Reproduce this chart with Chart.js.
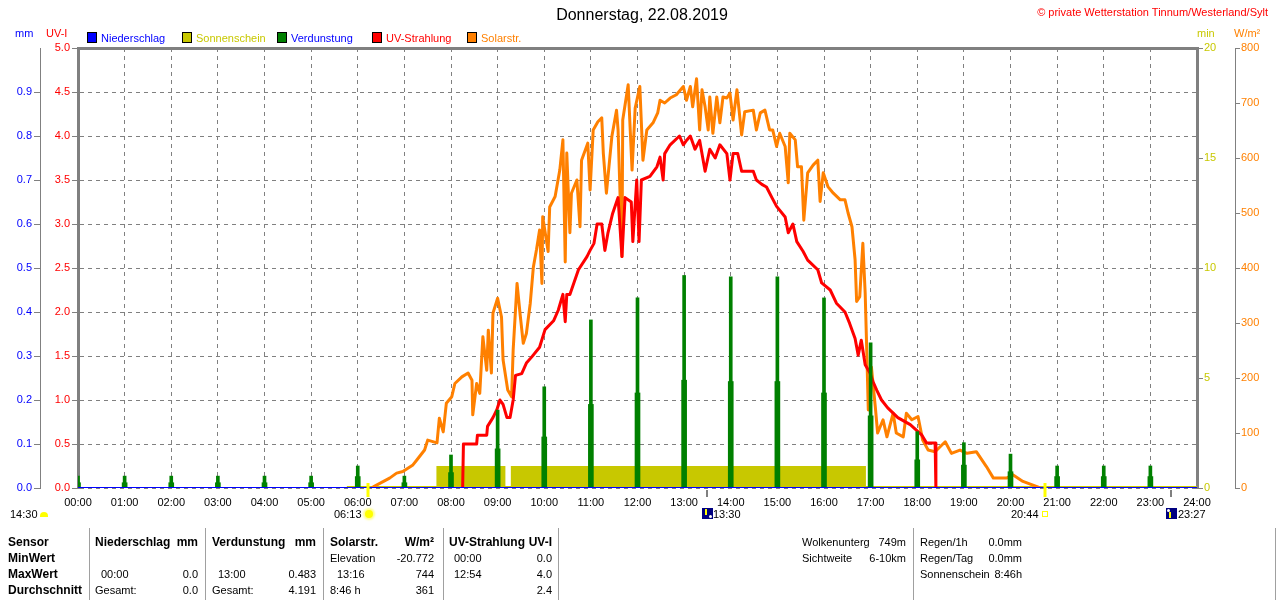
<!DOCTYPE html>
<html lang="de">
<head>
<meta charset="utf-8">
<title>Donnerstag, 22.08.2019</title>
<script src="https://cdn.jsdelivr.net/npm/chart.js@4.4.1/dist/chart.umd.min.js"></script>
<style>
  body { margin: 0; background: #fff; font-family: "Liberation Sans", Arial, sans-serif; font-size: 11px; color: #000; }
  #wrap { position: relative; width: 1280px; height: 600px; overflow: hidden; }
  #c { position: absolute; left: 0; top: 0; }
  .t { position: absolute; white-space: nowrap; line-height: 14px; }
  .b { font-weight: bold; font-size: 12px; }
  .box { position: absolute; top: 32px; width: 8px; height: 9px; border: 1px solid #000; }
  .sep { position: absolute; top: 528px; width: 1px; height: 72px; background: #a0a0a0; }
  .moon { position: absolute; top: 508px; width: 11px; height: 11px; background: #000080; }
  .moon i { position: absolute; left: 3px; top: 1px; width: 2px; height: 6px; background: #ffff00; }
  .moon b { position: absolute; right: 1px; bottom: 1px; width: 3px; height: 3px; background: #fff; border-radius: 50%; }
</style>
</head>
<body>
<div id="wrap">
  <canvas id="c" width="1280" height="600"></canvas>

  <div class="t" style="left:0;width:1284px;text-align:center;top:5px;font-size:16px;line-height:20px">Donnerstag, 22.08.2019</div>
  <div class="t" style="right:12px;top:5px;color:#ff0000">© private Wetterstation Tinnum/Westerland/Sylt</div>

  <div class="t" style="left:15px;top:26px;color:#0000ff">mm</div>
  <div class="t" style="left:46px;top:26px;color:#ff0000">UV-I</div>
  <div class="t" style="left:1197px;top:26px;color:#c8c800">min</div>
  <div class="t" style="left:1234px;top:26px;color:#ff8000">W/m²</div>

  <div class="box" style="left:87px;background:#0000ff"></div>
  <div class="t" style="left:101px;top:31px;color:#0000ff">Niederschlag</div>
  <div class="box" style="left:182px;background:#c8c800"></div>
  <div class="t" style="left:196px;top:31px;color:#c8c800">Sonnenschein</div>
  <div class="box" style="left:277px;background:#008000"></div>
  <div class="t" style="left:291px;top:31px;color:#0000ff">Verdunstung</div>
  <div class="box" style="left:372px;background:#ff0000"></div>
  <div class="t" style="left:386px;top:31px;color:#ff0000">UV-Strahlung</div>
  <div class="box" style="left:467px;background:#ff8000"></div>
  <div class="t" style="left:481px;top:31px;color:#ff8000">Solarstr.</div>

  <!-- Sonne / Mond unter der Zeitachse -->
  <div class="t" style="left:10px;top:507px">14:30</div>
  <div style="position:absolute;left:40px;top:512px;width:8px;height:5px;background:#ffff00;border-radius:4px 4px 0 0"></div>
  <div class="t" style="left:334px;top:507px">06:13</div>
  <div style="position:absolute;left:365px;top:510px;width:8px;height:8px;border-radius:50%;background:#ffff00;box-shadow:0 0 2px 2px #ffff90"></div>
  <div class="moon" style="left:702px"><i></i><b></b></div>
  <div class="t" style="left:713px;top:507px">13:30</div>
  <div class="t" style="left:1011px;top:507px">20:44</div>
  <div style="position:absolute;left:1042px;top:511px;width:4px;height:4px;border:1px solid #ffff00"></div>
  <div class="moon" style="left:1166px"><i style="top:4px"></i><b style="left:1px;top:1px"></b></div>
  <div class="t" style="left:1178px;top:507px">23:27</div>

  <!-- Tabelle -->
  <div class="t b" style="left:8px;top:535px">Sensor</div>
  <div class="t b" style="left:8px;top:551px">MinWert</div>
  <div class="t b" style="left:8px;top:567px">MaxWert</div>
  <div class="t b" style="left:8px;top:583px">Durchschnitt</div>

  <div class="sep" style="left:89px"></div>
  <div class="t b" style="left:95px;top:535px">Niederschlag</div>
  <div class="t b" style="right:1082px;top:535px">mm</div>
  <div class="t" style="left:101px;top:567px">00:00</div>
  <div class="t" style="right:1082px;top:567px">0.0</div>
  <div class="t" style="left:95px;top:583px">Gesamt:</div>
  <div class="t" style="right:1082px;top:583px">0.0</div>

  <div class="sep" style="left:205px"></div>
  <div class="t b" style="left:212px;top:535px">Verdunstung</div>
  <div class="t b" style="right:964px;top:535px">mm</div>
  <div class="t" style="left:218px;top:567px">13:00</div>
  <div class="t" style="right:964px;top:567px">0.483</div>
  <div class="t" style="left:212px;top:583px">Gesamt:</div>
  <div class="t" style="right:964px;top:583px">4.191</div>

  <div class="sep" style="left:323px"></div>
  <div class="t b" style="left:330px;top:535px">Solarstr.</div>
  <div class="t b" style="right:846px;top:535px">W/m²</div>
  <div class="t" style="left:330px;top:551px">Elevation</div>
  <div class="t" style="right:846px;top:551px">-20.772</div>
  <div class="t" style="left:337px;top:567px">13:16</div>
  <div class="t" style="right:846px;top:567px">744</div>
  <div class="t" style="left:330px;top:583px">8:46 h</div>
  <div class="t" style="right:846px;top:583px">361</div>

  <div class="sep" style="left:443px"></div>
  <div class="t b" style="left:449px;top:535px">UV-Strahlung</div>
  <div class="t b" style="right:728px;top:535px">UV-I</div>
  <div class="t" style="left:454px;top:551px">00:00</div>
  <div class="t" style="right:728px;top:551px">0.0</div>
  <div class="t" style="left:454px;top:567px">12:54</div>
  <div class="t" style="right:728px;top:567px">4.0</div>
  <div class="t" style="right:728px;top:583px">2.4</div>
  <div class="sep" style="left:558px"></div>

  <div class="t" style="left:802px;top:535px">Wolkenunterg</div>
  <div class="t" style="right:374px;top:535px">749m</div>
  <div class="t" style="left:802px;top:551px">Sichtweite</div>
  <div class="t" style="right:374px;top:551px">6-10km</div>
  <div class="sep" style="left:913px"></div>
  <div class="t" style="left:920px;top:535px">Regen/1h</div>
  <div class="t" style="right:258px;top:535px">0.0mm</div>
  <div class="t" style="left:920px;top:551px">Regen/Tag</div>
  <div class="t" style="right:258px;top:551px">0.0mm</div>
  <div class="t" style="left:920px;top:567px">Sonnenschein</div>
  <div class="t" style="right:258px;top:567px">8:46h</div>
  <div class="sep" style="left:1275px"></div>
</div>

<script>
// --- Daten ---
const hourTicks = ['00:00','01:00','02:00','03:00','04:00','05:00','06:00','07:00','08:00','09:00','10:00','11:00','12:00',
                   '13:00','14:00','15:00','16:00','17:00','18:00','19:00','20:00','21:00','22:00','23:00','24:00'];

// Niederschlag (mm)
const rainTimes = ['00:00', '24:00'];
const rainValues = [0, 0];

// Sonnenschein (min)
const sunTimes = ['07:41', '07:41', '09:10', '09:10', '09:17', '09:17', '16:54', '16:54'];
const sunValues = [0, 1, 1, 0, 0, 1, 1, 0];
const daylightTimes = ['05:46', '24:00'];
const daylightValues = [0, 0];

// Verdunstung (mm), je Stunde
const evapTimes = ['00:00','01:00','02:00','03:00','04:00','05:00','06:00','07:00','08:00','09:00','10:00','11:00',
                   '12:00','13:00','14:00','15:00','16:00','17:00','18:00','19:00','20:00','21:00','22:00','23:00'];
const evapValues = [0.027, 0.027, 0.027, 0.027, 0.027, 0.027, 0.050, 0.027, 0.075, 0.177, 0.230, 0.382,
                    0.432, 0.483, 0.480, 0.480, 0.432, 0.330, 0.128, 0.103, 0.077, 0.050, 0.050, 0.050];
const evapHalfValues = [0.012, 0.012, 0.012, 0.012, 0.012, 0.012, 0.026, 0.012, 0.035, 0.089, 0.116, 0.190,
                        0.216, 0.245, 0.242, 0.242, 0.216, 0.164, 0.064, 0.052, 0.037, 0.026, 0.026, 0.026];

// UV-Strahlung (UV-I)
const uvTimes = ['08:15','08:16','08:33','08:34','08:46','08:47','08:54','08:59','09:03','09:07','09:12','09:16',
  '09:20','09:23','09:31','09:37','09:44','09:54','10:01','10:12','10:18','10:24','10:27','10:29','10:33','10:37',
  '10:44','10:55','10:59','11:04','11:08','11:14','11:18','11:22','11:28','11:35','11:40','11:44','11:52','11:54',
  '11:59','12:02','12:05','12:16','12:25','12:29','12:33','12:35','12:42','12:54','12:59','13:03','13:08','13:14',
  '13:20','13:27','13:33','13:40','13:46','13:55','13:59','14:03','14:09','14:14','14:29','14:33','14:40','14:46',
  '14:53','14:59','15:10','15:14','15:20','15:25','15:33','15:39','15:52','15:57','16:08','16:16','16:27','16:33',
  '16:40','16:44','16:48','16:53','16:59','17:03','17:08','17:14','17:22','17:35','17:51','18:06','18:12','18:23','18:24'];
const uvValues = [0, 0.5, 0.5, 0.6, 0.6, 0.7, 0.8, 0.89, 1.0, 0.95, 0.8, 0.8,
  1.0, 1.28, 1.3, 1.42, 1.49, 1.6, 1.8, 1.9, 2.02, 2.2, 1.89, 2.2, 2.2, 2.3,
  2.48, 2.63, 2.7, 2.78, 3.0, 3.0, 2.7, 2.9, 3.12, 3.3, 2.63, 3.3, 3.25, 2.8,
  3.5, 2.8, 3.5, 3.54, 3.65, 3.76, 3.5, 3.8, 3.9, 4.0, 3.9, 3.95, 4.0, 3.85,
  3.95, 3.6, 3.85, 3.75, 3.9, 3.8, 3.5, 3.8, 3.8, 3.6, 3.6, 3.5, 3.45, 3.42,
  3.3, 3.2, 3.08, 2.9, 3.0, 2.8, 2.69, 2.59, 2.48, 2.33, 2.25, 2.1, 2.0, 1.87,
  1.7, 1.51, 1.68, 1.4, 1.31, 1.21, 1.11, 1.0, 0.91, 0.8, 0.72, 0.6, 0.51, 0.51, 0];

// Solarstrahlung (W/m²)
const solarTimes = ['06:18','06:20','06:41','06:50','06:58','07:11','07:16','07:26','07:30','07:42','07:45','07:50',
  '07:54','08:01','08:05','08:14','08:22','08:27','08:28','08:33','08:37','08:41','08:46','08:48','08:52','08:54',
  '09:00','09:05','09:07','09:13','09:18','09:20','09:25','09:29','09:33','09:37','09:42','09:46','09:50','09:54',
  '09:57','09:58','10:05','10:07','10:14','10:20','10:24','10:27','10:29','10:33','10:35','10:42','10:46','10:48',
  '10:56','10:59','11:03','11:09','11:14','11:16','11:20','11:27','11:33','11:35','11:40','11:41','11:48','11:53',
  '11:57','12:03','12:07','12:12','12:20','12:26','12:29','12:35','12:42','12:50','12:59','13:03','13:08','13:11',
  '13:16','13:20','13:23','13:27','13:31','13:33','13:37','13:42','13:46','13:50','13:55','13:59','14:03','14:08',
  '14:14','14:18','14:29','14:33','14:38','14:44','14:50','14:54','14:59','15:03','15:10','15:14','15:16','15:23',
  '15:26','15:31','15:34','15:39','15:46','15:52','15:55','15:59','16:05','16:12','16:21','16:27','16:31','16:36',
  '16:40','16:42','16:46','16:50','16:53','16:55','16:57','17:01','17:06','17:09','17:16','17:21','17:29','17:33',
  '17:42','17:46','17:53','18:01','18:07','18:14','18:23','18:36','18:44','18:55','19:04','19:16','19:29','19:38',
  '19:55','20:03','20:16','20:35','20:38'];
const solarValues = [0, 2, 18, 27, 30, 42, 51, 69, 87, 82, 127, 102,
  154, 166, 190, 202, 209, 196, 133, 190, 172, 275, 214, 287, 209, 318,
  345, 311, 233, 178, 166, 251, 372, 315, 263, 281, 336, 402, 433, 469,
  372, 493, 430, 511, 530, 578, 633, 411, 609, 464, 536, 560, 475, 596,
  627, 542, 651, 666, 673, 609, 536, 639, 687, 651, 421, 669, 733, 578,
  691, 730, 596, 651, 664, 682, 705, 700, 709, 715, 730, 705, 730, 693,
  744, 651, 724, 693, 651, 711, 645, 711, 664, 711, 709, 718, 669, 724,
  642, 684, 687, 651, 682, 687, 651, 651, 621, 645, 621, 555, 645, 633,
  584, 584, 487, 573, 587, 596, 521, 573, 548, 536, 524, 524, 500, 475,
  415, 339, 348, 445, 354, 251, 142, 220, 148, 100, 124, 93, 136, 100,
  93, 136, 124, 130, 87, 69, 66, 84, 63, 69, 63, 66, 39, 18,
  18, 24, 12, 2, 0];

// Sonnenauf-/-untergang und Mondauf-/-untergang
const sunMarkTimes = ['06:13', '20:44'];
const moonMarkTimes = ['13:30', '23:27'];

// --- Hilfsfunktionen ---
function toMin(t) {
    const [h, m] = t.split(':').map(Number);
    return h * 60 + m;
}
function pts(times, values) {
    return times.map((t, i) => ({ x: toMin(t), y: values[i] }));
}

const GRID = '#808080';
const FONT = { family: '"Liberation Sans", Arial, sans-serif', size: 11 };
Chart.defaults.font.family = FONT.family;
Chart.defaults.font.size = 11;

// kleine Striche unter der Zeitachse
const markerPlugin = {
    id: 'markers',
    afterDatasetsDraw(chart) {
        const { ctx, chartArea, scales } = chart;
        ctx.save();
        ctx.lineWidth = 3;
        ctx.strokeStyle = '#ffff00';
        sunMarkTimes.forEach(t => {
            const x = Math.round(scales.x.getPixelForValue(toMin(t)));
            ctx.beginPath();
            ctx.moveTo(x, chartArea.bottom - 5);
            ctx.lineTo(x, chartArea.bottom + 9);
            ctx.stroke();
        });
        ctx.lineWidth = 2;
        ctx.strokeStyle = GRID;
        moonMarkTimes.forEach(t => {
            const x = Math.round(scales.x.getPixelForValue(toMin(t)));
            ctx.beginPath();
            ctx.moveTo(x, chartArea.bottom + 2);
            ctx.lineTo(x, chartArea.bottom + 9);
            ctx.stroke();
        });
        ctx.restore();
    }
};

new Chart(document.getElementById('c'), {
    type: 'line',
    data: {
        datasets: [
            {
                label: 'Niederschlag', data: pts(rainTimes, rainValues), yAxisID: 'yMM',
                borderColor: '#0000ff', borderWidth: 2, order: 0
            },
            {
                type: 'bar', label: 'Verdunstung', data: pts(evapTimes, evapValues), yAxisID: 'yMM',
                backgroundColor: '#008000', barThickness: 3, grouped: false, order: 1
            },
            {
                type: 'bar', label: 'Verdunstung ½', data: pts(evapTimes, evapHalfValues), yAxisID: 'yMM',
                backgroundColor: '#008000', barThickness: 5, grouped: false, order: 1
            },
            {
                label: 'UV-Strahlung', data: pts(uvTimes, uvValues), yAxisID: 'yUV',
                borderColor: '#ff0000', borderWidth: 3, borderJoinStyle: 'round', order: 2
            },
            {
                label: 'Solarstr.', data: pts(solarTimes, solarValues), yAxisID: 'ySolar',
                borderColor: '#ff8000', borderWidth: 3, borderJoinStyle: 'round', order: 3
            },
            {
                label: 'Sonnenschein', data: pts(sunTimes, sunValues), yAxisID: 'ySun',
                borderColor: 'rgba(0,0,0,0)', borderWidth: 0, backgroundColor: '#c8c800', fill: 'origin', order: 4
            },
            {
                label: 'Tag', data: pts(daylightTimes, daylightValues), yAxisID: 'ySun',
                borderColor: '#c8c800', borderWidth: 4, order: 5
            }
        ]
    },
    options: {
        responsive: false,
        animation: false,
        devicePixelRatio: 1,
        layout: { padding: { top: 48, left: 0, right: 0, bottom: 0 } },
        elements: { point: { radius: 0 }, line: { tension: 0 } },
        plugins: { legend: { display: false }, tooltip: { enabled: false } },
        scales: {
            x: {
                type: 'linear', position: 'bottom', min: 0, max: 1440, offset: false,
                afterFit: s => { s.height = 112; },
                ticks: {
                    stepSize: 60, autoSkip: false, maxRotation: 0, color: '#000', padding: 8, font: FONT,
                    callback: v => hourTicks[Math.round(v / 60)]
                },
                grid: {
                    offset: false, drawTicks: false, lineWidth: 1,
                    color: c => (c.tick && (c.tick.value === 0 || c.tick.value === 1440)) ? 'rgba(0,0,0,0)' : GRID
                },
                border: { display: false, dash: [4, 4] }
            },
            yMM: {
                position: 'left', weight: 2, min: 0, max: 1,
                afterFit: s => { s.width = 40; },
                ticks: {
                    stepSize: 0.1, color: '#0000ff', padding: 2, font: FONT,
                    callback: v => v > 0.95 ? null : v.toFixed(1)
                },
                grid: { drawOnChartArea: false, tickLength: 6, tickColor: GRID },
                border: { color: GRID, width: 1 }
            },
            yUV: {
                position: 'left', weight: 1, min: 0, max: 5,
                afterFit: s => { s.width = 38; },
                ticks: { stepSize: 0.5, color: '#ff0000', padding: 2, font: FONT, callback: v => v.toFixed(1) },
                grid: {
                    color: GRID, tickLength: 6, tickColor: GRID, tickWidth: 1,
                    lineWidth: c => (c.tick && c.tick.value === 5) ? 3 : 1
                },
                border: {
                    color: GRID, width: 3,
                    dash: c => (c.tick && c.tick.value === 5) ? [] : [4, 4]
                }
            },
            ySun: {
                position: 'right', weight: 1, min: 0, max: 20,
                afterFit: s => { s.width = 38; },
                ticks: { stepSize: 5, color: '#c8c800', padding: 1, font: FONT },
                grid: { drawOnChartArea: false, tickLength: 6, tickColor: GRID },
                border: { color: GRID, width: 3 }
            },
            ySolar: {
                position: 'right', weight: 2, min: 0, max: 800,
                afterFit: s => { s.width = 45; },
                ticks: { stepSize: 100, color: '#ff8000', padding: 1, font: FONT },
                grid: { drawOnChartArea: false, tickLength: 5, tickColor: GRID },
                border: { color: GRID, width: 1 }
            }
        }
    },
    plugins: [markerPlugin]
});
</script>
</body>
</html>
